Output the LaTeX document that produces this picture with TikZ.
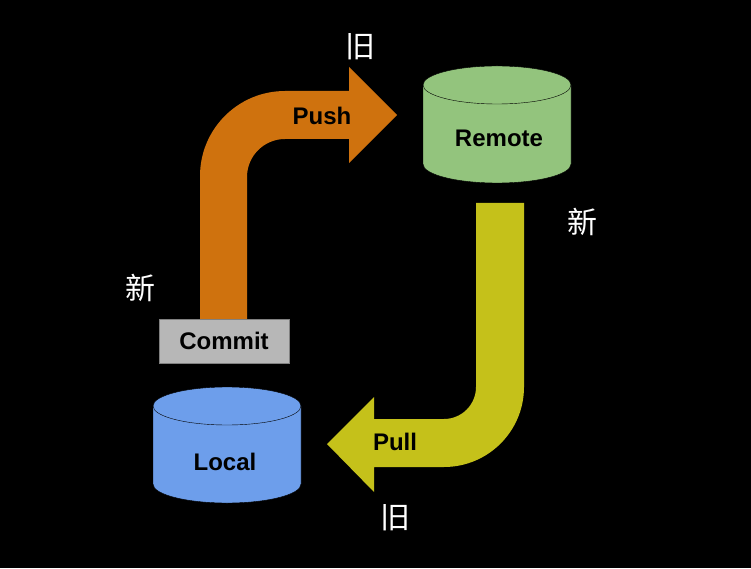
\documentclass[tikz,border=0pt]{standalone}
\usepackage{fontspec}
\setmainfont{Liberation Sans}
\newfontfamily\cjk{Noto Sans CJK SC}
\usepackage{xcolor}
\usepackage{tikz}
\definecolor{pushorange}{HTML}{CF720E}
\definecolor{pullyellow}{HTML}{C5C11A}
\definecolor{remotegreen}{HTML}{93C47D}
\definecolor{localblue}{HTML}{6D9EEB}
\definecolor{commitgray}{HTML}{B7B7B7}

\begin{document}
\begin{tikzpicture}[x=1pt, y=1pt, every node/.style={inner sep=0pt, font=\bfseries\fontsize{24}{28}\selectfont},
  cjklabel/.style={text=white, font=\cjk\fontsize{30}{32}\selectfont},
  commitbox/.style={fill=commitgray, draw=gray, minimum width=130pt, minimum height=44pt}]
  \fill[black] (0,0) rectangle (751,568);
  \useasboundingbox (0,0) rectangle (751,568);
  % push arrow
  \fill[pushorange] (200,248) -- (200,392) arc (180:90:85) -- (349,477) -- (349,501) -- (397,453)
    -- (349,405) -- (349,429) -- (285,429) arc (90:180:38) -- (247,248) -- cycle;
  % pull arrow
  \fill[pullyellow] (476,365) -- (476,181) arc (0:-90:32) -- (374,149) -- (374,171) -- (327,124)
    -- (374,76) -- (374,101) -- (444,101) arc (-90:0:80) -- (524,365) -- cycle;
  % remote
  \draw[fill=remotegreen, thin] (423,483) -- (423,404) arc (180:360:74 and 19) -- (571,483) arc (0:180:74 and 19) -- cycle;
  \draw[thin] (423,483) arc (180:360:74 and 19);
  % local
  \draw[fill=localblue, thin] (153,162) -- (153,84) arc (180:360:74 and 19) -- (301,162) arc (0:180:74 and 19) -- cycle;
  \draw[thin] (153,162) arc (180:360:74 and 19);
  \node[commitbox] (commit) at (224,227) {Commit};
  \node (push) at (322,452) {Push};
  \node (pull) at (395,126) {Pull};
  \node (remote) at (499,430) {Remote};
  \node (local) at (225,106) {Local};
  \node[cjklabel] (old1) at (360,521) {旧};
  \node[cjklabel] (new1) at (582,346) {新};
  \node[cjklabel] (new2) at (140,280) {新};
  \node[cjklabel] (old2) at (395,50) {旧};
\end{tikzpicture}
\end{document}
